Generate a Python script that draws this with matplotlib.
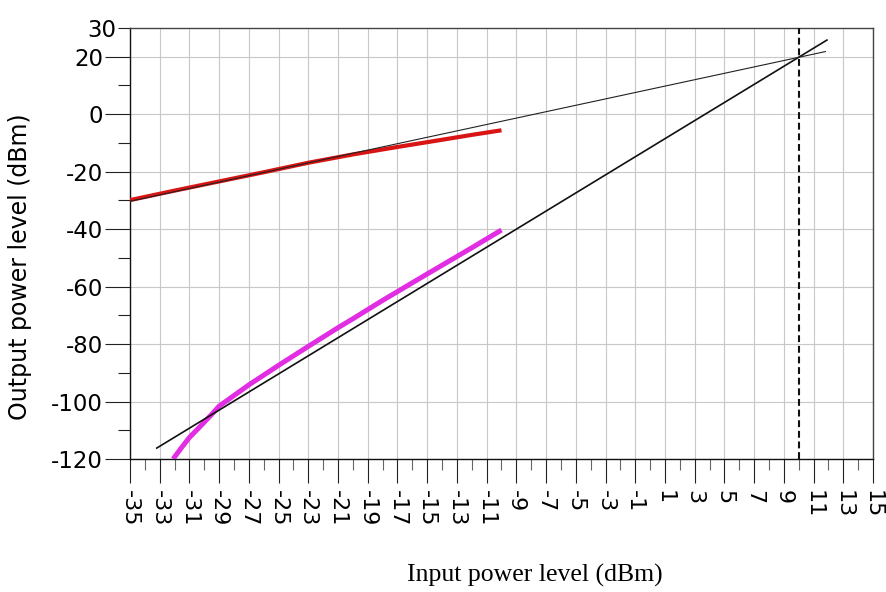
import matplotlib
matplotlib.use("Agg")
import matplotlib.pyplot as plt

# ---- data ----
fund_ext_x = [-35.0, 11.8]
fund_ext_y = [-30.3, 21.8]

im3_ext_x = [-33.2, 11.9]
im3_ext_y = [-116.2, 25.8]

fund_sim_x = [-35, -32, -29, -26, -23, -20, -17, -14, -12, -10]
fund_sim_y = [-29.9, -26.6, -23.4, -20.2, -16.9, -14.0, -11.4, -8.9, -7.2, -5.6]

im3_sim_x = [-32.1, -31.6, -31.0, -30.3, -29.6, -29.0, -28.0, -27.0, -25.0,
             -23.0, -21.0, -20.0, -18.0, -15.0, -12.0, -10.0]
im3_sim_y = [-120.0, -116.5, -112.5, -108.8, -105.0, -101.6, -97.9, -94.2, -87.4,
             -80.8, -74.3, -71.2, -64.8, -55.6, -46.5, -40.3]

ip3_x = 10.0

x_major = list(range(-35, 16, 2))
x_minor = list(range(-34, 15, 2))
y_major = list(range(-120, 21, 20))
y_minor = list(range(-110, 31, 20))
y_minor_labels = ["" for v in y_minor[:-1]] + ["30"]

xlabel = "Input power level (dBm)"
ylabel = "Output power level (dBm)"

# ---- figure ----
W, H = 887, 592
fig = plt.figure(figsize=(W / 100, H / 100), dpi=100)
L, R, T, B = 130, 873, 28, 459
ax = fig.add_axes([L / W, 1 - B / H, (R - L) / W, (B - T) / H])

ax.set_xlim(-35, 15)
ax.set_ylim(-120, 30)

ax.set_xticks(x_major)
ax.set_xticklabels([str(v) for v in x_major], rotation=270,
                   fontfamily="DejaVu Sans", fontsize=16)
ax.set_xticks(x_minor, minor=True)
ax.set_yticks(y_major)
ax.set_yticklabels([str(v) for v in y_major], fontfamily="DejaVu Sans", fontsize=16.5)
ax.set_yticks(y_minor, labels=y_minor_labels, minor=True,
              fontfamily="DejaVu Sans", fontsize=16.5)

ax.tick_params(axis="x", which="major", length=17, width=0.8, pad=5, color="#222222")
ax.tick_params(axis="x", which="minor", length=8, width=0.8, color="#666666")
ax.tick_params(axis="y", which="major", length=18, width=0.8, pad=1.5, color="#222222")
ax.tick_params(axis="y", which="minor", length=8.6, width=0.8, pad=1.5, color="#222222")

ax.grid(True, which="major", color="#c8c8c8", linewidth=0.8, zorder=0)
ax.set_axisbelow(True)

for s in ["left", "bottom"]:
    ax.spines[s].set_color("#111111")
    ax.spines[s].set_linewidth(1.0)
for s in ["right", "top"]:
    ax.spines[s].set_color("#444444")
    ax.spines[s].set_linewidth(1.0)

ax.plot(im3_sim_x, im3_sim_y, color="#e22ee2", linewidth=3.6, solid_capstyle="butt", zorder=3)
ax.plot(im3_ext_x, im3_ext_y, color="#111111", linewidth=1.2, zorder=4)
ax.plot(fund_sim_x, fund_sim_y, color="#d81414", linewidth=3.0, solid_capstyle="butt", zorder=3)
ax.plot(fund_ext_x, fund_ext_y, color="#222222", linewidth=0.8, zorder=4)
ax.plot([ip3_x, ip3_x], [-120, 30], color="#111111", linewidth=1.5,
        dashes=(3.3, 1.8), zorder=5)

fig.text(535 / W, 1 - 575 / H, xlabel, ha="center", va="center",
         fontfamily="Liberation Serif", fontsize=18.5)
fig.text(20 / W, 1 - 267 / H, ylabel, ha="center", va="center", rotation=90,
         fontfamily="DejaVu Sans", fontsize=17)

fig.savefig("out.png", dpi=100)
